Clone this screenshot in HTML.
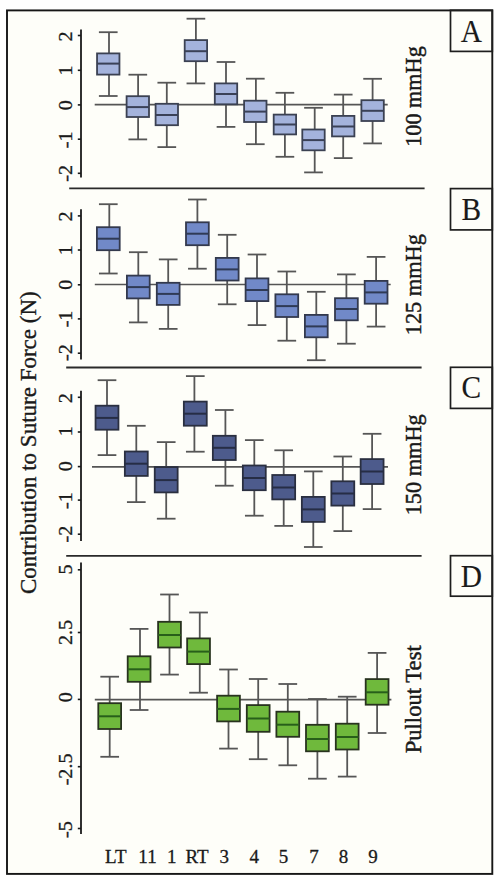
<!DOCTYPE html><html><head><meta charset="utf-8"><title>Contribution to Suture Force</title><style>
html,body{margin:0;padding:0;background:#fff;width:500px;height:883px;overflow:hidden}
svg{display:block}
text{font-family:"Liberation Serif",serif;fill:#1a1a1a}
</style></head><body>
<svg width="500" height="883" viewBox="0 0 500 883">
<rect x="7" y="10.4" width="485.3" height="863.5" fill="#fefef9" stroke="#161616" stroke-width="1.9"/>
<line x1="69.2" y1="188.3" x2="424.6" y2="188.3" stroke="#2a2a2a" stroke-width="1.8"/>
<line x1="66.2" y1="367.5" x2="421.6" y2="367.5" stroke="#2a2a2a" stroke-width="1.8"/>
<line x1="66.2" y1="555.9" x2="421.6" y2="555.9" stroke="#2a2a2a" stroke-width="1.8"/>
<rect x="450.5" y="10.3" width="41.8" height="41.1" fill="none" stroke="#1e1e1e" stroke-width="1.7"/>
<text transform="translate(471.4 42.05) scale(0.98 1.06)" font-size="30" text-anchor="middle" stroke="#1a1a1a" stroke-width="0.15">A</text>
<text transform="translate(421.3 96.5) rotate(-90) scale(0.925 1)" font-size="24" fill="#1a1a1a" stroke="#1a1a1a" stroke-width="0.45" text-anchor="middle">100 mmHg</text>
<line x1="81" y1="29.4" x2="81" y2="177.6" stroke="#1a1a1a" stroke-width="1.8"/>
<line x1="77.8" y1="35.5" x2="81" y2="35.5" stroke="#1a1a1a" stroke-width="1.6"/>
<text transform="translate(72.0 36.5) rotate(-90) scale(1.06 1)" font-size="19" text-anchor="middle" stroke="#1a1a1a" stroke-width="0.3">2</text>
<line x1="77.8" y1="70.3" x2="81" y2="70.3" stroke="#1a1a1a" stroke-width="1.6"/>
<text transform="translate(72.0 70.5) rotate(-90) scale(1.06 1)" font-size="19" text-anchor="middle" stroke="#1a1a1a" stroke-width="0.3">1</text>
<line x1="77.8" y1="104.9" x2="81" y2="104.9" stroke="#1a1a1a" stroke-width="1.6"/>
<text transform="translate(72.0 105.1) rotate(-90) scale(1.06 1)" font-size="19" text-anchor="middle" stroke="#1a1a1a" stroke-width="0.3">0</text>
<line x1="77.8" y1="139.2" x2="81" y2="139.2" stroke="#1a1a1a" stroke-width="1.6"/>
<text transform="translate(72.0 139.8) rotate(-90) scale(1.06 1)" font-size="19" text-anchor="middle" stroke="#1a1a1a" stroke-width="0.3">-1</text>
<line x1="77.8" y1="173.3" x2="81" y2="173.3" stroke="#1a1a1a" stroke-width="1.6"/>
<text transform="translate(72.0 173.3) rotate(-90) scale(1.06 1)" font-size="19" text-anchor="middle" stroke="#1a1a1a" stroke-width="0.3">-2</text>
<line x1="94.7" y1="104.6" x2="387.7" y2="104.6" stroke="#555" stroke-width="1.7"/>
<g stroke="#565656" stroke-width="1.8" fill="none"><line x1="109" y1="32.2" x2="109" y2="53.4"/><line x1="109" y1="74.6" x2="109" y2="96"/><line x1="98.9" y1="32.2" x2="117.6" y2="32.2"/><line x1="98.9" y1="96" x2="117.6" y2="96"/></g>
<rect x="97.05" y="53.4" width="22.4" height="21.2" fill="#a4b3dc" stroke="#3b4152" stroke-width="1.8"/>
<line x1="97.05" y1="63.6" x2="119.45" y2="63.6" stroke="#3a4157" stroke-width="2"/>
<g stroke="#565656" stroke-width="1.8" fill="none"><line x1="138.1" y1="74.7" x2="138.1" y2="96.2"/><line x1="138.1" y1="117" x2="138.1" y2="139.4"/><line x1="128.45" y1="74.7" x2="147.15" y2="74.7"/><line x1="128.45" y1="139.4" x2="147.15" y2="139.4"/></g>
<rect x="126.6" y="96.2" width="22.4" height="20.8" fill="#a4b3dc" stroke="#3b4152" stroke-width="1.8"/>
<line x1="126.6" y1="107.1" x2="149" y2="107.1" stroke="#3a4157" stroke-width="2"/>
<g stroke="#565656" stroke-width="1.8" fill="none"><line x1="166.8" y1="82.7" x2="166.8" y2="103.8"/><line x1="166.8" y1="125.2" x2="166.8" y2="147.1"/><line x1="157.45" y1="82.7" x2="176.15" y2="82.7"/><line x1="157.45" y1="147.1" x2="176.15" y2="147.1"/></g>
<rect x="155.6" y="103.8" width="22.4" height="21.4" fill="#a4b3dc" stroke="#3b4152" stroke-width="1.8"/>
<line x1="155.6" y1="115" x2="178" y2="115" stroke="#3a4157" stroke-width="2"/>
<g stroke="#565656" stroke-width="1.8" fill="none"><line x1="195.9" y1="18.7" x2="195.9" y2="40.1"/><line x1="195.9" y1="61.2" x2="195.9" y2="83.4"/><line x1="186.55" y1="18.7" x2="205.25" y2="18.7"/><line x1="186.55" y1="83.4" x2="205.25" y2="83.4"/></g>
<rect x="184.7" y="40.1" width="22.4" height="21.1" fill="#a4b3dc" stroke="#3b4152" stroke-width="1.8"/>
<line x1="184.7" y1="51.2" x2="207.1" y2="51.2" stroke="#3a4157" stroke-width="2"/>
<g stroke="#565656" stroke-width="1.8" fill="none"><line x1="226" y1="62" x2="226" y2="83.4"/><line x1="226" y1="104.3" x2="226" y2="126.9"/><line x1="216.65" y1="62" x2="235.35" y2="62"/><line x1="216.65" y1="126.9" x2="235.35" y2="126.9"/></g>
<rect x="214.8" y="83.4" width="22.4" height="20.9" fill="#a4b3dc" stroke="#3b4152" stroke-width="1.8"/>
<line x1="214.8" y1="94" x2="237.2" y2="94" stroke="#3a4157" stroke-width="2"/>
<g stroke="#565656" stroke-width="1.8" fill="none"><line x1="255.9" y1="78.7" x2="255.9" y2="100.7"/><line x1="255.9" y1="122" x2="255.9" y2="144.2"/><line x1="245.95" y1="78.7" x2="264.65" y2="78.7"/><line x1="245.95" y1="144.2" x2="264.65" y2="144.2"/></g>
<rect x="244.1" y="100.7" width="22.4" height="21.3" fill="#a4b3dc" stroke="#3b4152" stroke-width="1.8"/>
<line x1="244.1" y1="111.6" x2="266.5" y2="111.6" stroke="#3a4157" stroke-width="2"/>
<g stroke="#565656" stroke-width="1.8" fill="none"><line x1="284.9" y1="92.8" x2="284.9" y2="114.6"/><line x1="284.9" y1="134.4" x2="284.9" y2="156.8"/><line x1="275.55" y1="92.8" x2="294.25" y2="92.8"/><line x1="275.55" y1="156.8" x2="294.25" y2="156.8"/></g>
<rect x="273.7" y="114.6" width="22.4" height="19.8" fill="#a4b3dc" stroke="#3b4152" stroke-width="1.8"/>
<line x1="273.7" y1="124.5" x2="296.1" y2="124.5" stroke="#3a4157" stroke-width="2"/>
<g stroke="#565656" stroke-width="1.8" fill="none"><line x1="314.7" y1="107.8" x2="314.7" y2="129.5"/><line x1="314.7" y1="150.3" x2="314.7" y2="172.4"/><line x1="304.15" y1="107.8" x2="322.85" y2="107.8"/><line x1="304.15" y1="172.4" x2="322.85" y2="172.4"/></g>
<rect x="302.3" y="129.5" width="22.4" height="20.8" fill="#a4b3dc" stroke="#3b4152" stroke-width="1.8"/>
<line x1="302.3" y1="140.1" x2="324.7" y2="140.1" stroke="#3a4157" stroke-width="2"/>
<g stroke="#565656" stroke-width="1.8" fill="none"><line x1="343.2" y1="94.6" x2="343.2" y2="115.9"/><line x1="343.2" y1="136.4" x2="343.2" y2="158.1"/><line x1="333.85" y1="94.6" x2="352.55" y2="94.6"/><line x1="333.85" y1="158.1" x2="352.55" y2="158.1"/></g>
<rect x="332" y="115.9" width="22.4" height="20.5" fill="#a4b3dc" stroke="#3b4152" stroke-width="1.8"/>
<line x1="332" y1="126.5" x2="354.4" y2="126.5" stroke="#3a4157" stroke-width="2"/>
<g stroke="#565656" stroke-width="1.8" fill="none"><line x1="372.6" y1="78.8" x2="372.6" y2="100.2"/><line x1="372.6" y1="121" x2="372.6" y2="143.4"/><line x1="363.25" y1="78.8" x2="381.95" y2="78.8"/><line x1="363.25" y1="143.4" x2="381.95" y2="143.4"/></g>
<rect x="361.4" y="100.2" width="22.4" height="20.8" fill="#a4b3dc" stroke="#3b4152" stroke-width="1.8"/>
<line x1="361.4" y1="110.8" x2="383.8" y2="110.8" stroke="#3a4157" stroke-width="2"/>
<rect x="450.5" y="188.6" width="41.8" height="41.3" fill="none" stroke="#1e1e1e" stroke-width="1.7"/>
<text transform="translate(471.4 220.35) scale(0.98 1.06)" font-size="30" text-anchor="middle" stroke="#1a1a1a" stroke-width="0.15">B</text>
<text transform="translate(421.3 284.7) rotate(-90) scale(0.93 1)" font-size="24" fill="#1a1a1a" stroke="#1a1a1a" stroke-width="0.45" text-anchor="middle">125 mmHg</text>
<line x1="81" y1="209.3" x2="81" y2="359.4" stroke="#1a1a1a" stroke-width="1.8"/>
<line x1="77.8" y1="215.9" x2="81" y2="215.9" stroke="#1a1a1a" stroke-width="1.6"/>
<text transform="translate(72.0 216.4) rotate(-90) scale(1.06 1)" font-size="19" text-anchor="middle" stroke="#1a1a1a" stroke-width="0.3">2</text>
<line x1="77.8" y1="250" x2="81" y2="250" stroke="#1a1a1a" stroke-width="1.6"/>
<text transform="translate(72.0 250.2) rotate(-90) scale(1.06 1)" font-size="19" text-anchor="middle" stroke="#1a1a1a" stroke-width="0.3">1</text>
<line x1="77.8" y1="284.8" x2="81" y2="284.8" stroke="#1a1a1a" stroke-width="1.6"/>
<text transform="translate(72.0 284.8) rotate(-90) scale(1.06 1)" font-size="19" text-anchor="middle" stroke="#1a1a1a" stroke-width="0.3">0</text>
<line x1="77.8" y1="318.9" x2="81" y2="318.9" stroke="#1a1a1a" stroke-width="1.6"/>
<text transform="translate(72.0 319) rotate(-90) scale(1.06 1)" font-size="19" text-anchor="middle" stroke="#1a1a1a" stroke-width="0.3">-1</text>
<line x1="77.8" y1="353.2" x2="81" y2="353.2" stroke="#1a1a1a" stroke-width="1.6"/>
<text transform="translate(72.0 352.6) rotate(-90) scale(1.06 1)" font-size="19" text-anchor="middle" stroke="#1a1a1a" stroke-width="0.3">-2</text>
<line x1="94.8" y1="284.5" x2="390.7" y2="284.5" stroke="#555" stroke-width="1.7"/>
<g stroke="#565656" stroke-width="1.8" fill="none"><line x1="109.3" y1="204.2" x2="109.3" y2="227.2"/><line x1="109.3" y1="250.2" x2="109.3" y2="273.5"/><line x1="98.95" y1="204.2" x2="117.65" y2="204.2"/><line x1="98.95" y1="273.5" x2="117.65" y2="273.5"/></g>
<rect x="96.9" y="227.2" width="22.8" height="23" fill="#7189c8" stroke="#33394d" stroke-width="1.8"/>
<line x1="96.9" y1="238.7" x2="119.7" y2="238.7" stroke="#2f3a55" stroke-width="2"/>
<g stroke="#565656" stroke-width="1.8" fill="none"><line x1="138.3" y1="252.2" x2="138.3" y2="275.6"/><line x1="138.3" y1="298.4" x2="138.3" y2="322.4"/><line x1="128.95" y1="252.2" x2="147.65" y2="252.2"/><line x1="128.95" y1="322.4" x2="147.65" y2="322.4"/></g>
<rect x="126.9" y="275.6" width="22.8" height="22.8" fill="#7189c8" stroke="#33394d" stroke-width="1.8"/>
<line x1="126.9" y1="287.1" x2="149.7" y2="287.1" stroke="#2f3a55" stroke-width="2"/>
<g stroke="#565656" stroke-width="1.8" fill="none"><line x1="168.2" y1="259.4" x2="168.2" y2="282.8"/><line x1="168.2" y1="304.9" x2="168.2" y2="328.9"/><line x1="158.85" y1="259.4" x2="177.55" y2="259.4"/><line x1="158.85" y1="328.9" x2="177.55" y2="328.9"/></g>
<rect x="156.8" y="282.8" width="22.8" height="22.1" fill="#7189c8" stroke="#33394d" stroke-width="1.8"/>
<line x1="156.8" y1="293.9" x2="179.6" y2="293.9" stroke="#2f3a55" stroke-width="2"/>
<g stroke="#565656" stroke-width="1.8" fill="none"><line x1="197.4" y1="199.5" x2="197.4" y2="222.3"/><line x1="197.4" y1="245.2" x2="197.4" y2="268.7"/><line x1="188.05" y1="199.5" x2="206.75" y2="199.5"/><line x1="188.05" y1="268.7" x2="206.75" y2="268.7"/></g>
<rect x="186" y="222.3" width="22.8" height="22.9" fill="#7189c8" stroke="#33394d" stroke-width="1.8"/>
<line x1="186" y1="233.7" x2="208.8" y2="233.7" stroke="#2f3a55" stroke-width="2"/>
<g stroke="#565656" stroke-width="1.8" fill="none"><line x1="227.2" y1="234.8" x2="227.2" y2="257.9"/><line x1="227.2" y1="280.5" x2="227.2" y2="304.3"/><line x1="217.85" y1="234.8" x2="236.55" y2="234.8"/><line x1="217.85" y1="304.3" x2="236.55" y2="304.3"/></g>
<rect x="215.8" y="257.9" width="22.8" height="22.6" fill="#7189c8" stroke="#33394d" stroke-width="1.8"/>
<line x1="215.8" y1="269.4" x2="238.6" y2="269.4" stroke="#2f3a55" stroke-width="2"/>
<g stroke="#565656" stroke-width="1.8" fill="none"><line x1="257" y1="254.5" x2="257" y2="278.4"/><line x1="257" y1="301.1" x2="257" y2="325.1"/><line x1="247.65" y1="254.5" x2="266.35" y2="254.5"/><line x1="247.65" y1="325.1" x2="266.35" y2="325.1"/></g>
<rect x="245.6" y="278.4" width="22.8" height="22.7" fill="#7189c8" stroke="#33394d" stroke-width="1.8"/>
<line x1="245.6" y1="290" x2="268.4" y2="290" stroke="#2f3a55" stroke-width="2"/>
<g stroke="#565656" stroke-width="1.8" fill="none"><line x1="286.8" y1="271.5" x2="286.8" y2="294.3"/><line x1="286.8" y1="317" x2="286.8" y2="340.7"/><line x1="277.45" y1="271.5" x2="296.15" y2="271.5"/><line x1="277.45" y1="340.7" x2="296.15" y2="340.7"/></g>
<rect x="275.4" y="294.3" width="22.8" height="22.7" fill="#7189c8" stroke="#33394d" stroke-width="1.8"/>
<line x1="275.4" y1="306.1" x2="298.2" y2="306.1" stroke="#2f3a55" stroke-width="2"/>
<g stroke="#565656" stroke-width="1.8" fill="none"><line x1="316.3" y1="291.8" x2="316.3" y2="314.9"/><line x1="316.3" y1="337.3" x2="316.3" y2="360.2"/><line x1="306.95" y1="291.8" x2="325.65" y2="291.8"/><line x1="306.95" y1="360.2" x2="325.65" y2="360.2"/></g>
<rect x="304.9" y="314.9" width="22.8" height="22.4" fill="#7189c8" stroke="#33394d" stroke-width="1.8"/>
<line x1="304.9" y1="326.4" x2="327.7" y2="326.4" stroke="#2f3a55" stroke-width="2"/>
<g stroke="#565656" stroke-width="1.8" fill="none"><line x1="346.4" y1="274.4" x2="346.4" y2="298.2"/><line x1="346.4" y1="320.3" x2="346.4" y2="343.7"/><line x1="337.05" y1="274.4" x2="355.75" y2="274.4"/><line x1="337.05" y1="343.7" x2="355.75" y2="343.7"/></g>
<rect x="335" y="298.2" width="22.8" height="22.1" fill="#7189c8" stroke="#33394d" stroke-width="1.8"/>
<line x1="335" y1="309" x2="357.8" y2="309" stroke="#2f3a55" stroke-width="2"/>
<g stroke="#565656" stroke-width="1.8" fill="none"><line x1="376.1" y1="256.9" x2="376.1" y2="280.9"/><line x1="376.1" y1="303.7" x2="376.1" y2="326.6"/><line x1="366.75" y1="256.9" x2="385.45" y2="256.9"/><line x1="366.75" y1="326.6" x2="385.45" y2="326.6"/></g>
<rect x="364.7" y="280.9" width="22.8" height="22.8" fill="#7189c8" stroke="#33394d" stroke-width="1.8"/>
<line x1="364.7" y1="292.4" x2="387.5" y2="292.4" stroke="#2f3a55" stroke-width="2"/>
<rect x="450.5" y="367.3" width="41.8" height="41.1" fill="none" stroke="#1e1e1e" stroke-width="1.7"/>
<text transform="translate(471.4 398.35) scale(0.98 1.06)" font-size="30" text-anchor="middle" stroke="#1a1a1a" stroke-width="0.15">C</text>
<text transform="translate(421.3 464.8) rotate(-90) scale(0.93 1)" font-size="24" fill="#1a1a1a" stroke="#1a1a1a" stroke-width="0.45" text-anchor="middle">150 mmHg</text>
<line x1="81" y1="390.7" x2="81" y2="540.9" stroke="#1a1a1a" stroke-width="1.8"/>
<line x1="77.8" y1="397.3" x2="81" y2="397.3" stroke="#1a1a1a" stroke-width="1.6"/>
<text transform="translate(72.0 398.3) rotate(-90) scale(1.06 1)" font-size="19" text-anchor="middle" stroke="#1a1a1a" stroke-width="0.3">2</text>
<line x1="77.8" y1="432" x2="81" y2="432" stroke="#1a1a1a" stroke-width="1.6"/>
<text transform="translate(72.0 431.2) rotate(-90) scale(1.06 1)" font-size="19" text-anchor="middle" stroke="#1a1a1a" stroke-width="0.3">1</text>
<line x1="77.8" y1="466.6" x2="81" y2="466.6" stroke="#1a1a1a" stroke-width="1.6"/>
<text transform="translate(72.0 466.2) rotate(-90) scale(1.06 1)" font-size="19" text-anchor="middle" stroke="#1a1a1a" stroke-width="0.3">0</text>
<line x1="77.8" y1="500.1" x2="81" y2="500.1" stroke="#1a1a1a" stroke-width="1.6"/>
<text transform="translate(72.0 500.7) rotate(-90) scale(1.06 1)" font-size="19" text-anchor="middle" stroke="#1a1a1a" stroke-width="0.3">-1</text>
<line x1="77.8" y1="534.2" x2="81" y2="534.2" stroke="#1a1a1a" stroke-width="1.6"/>
<text transform="translate(72.0 534.2) rotate(-90) scale(1.06 1)" font-size="19" text-anchor="middle" stroke="#1a1a1a" stroke-width="0.3">-2</text>
<line x1="92" y1="466.85" x2="388" y2="466.85" stroke="#555" stroke-width="1.7"/>
<g stroke="#565656" stroke-width="1.8" fill="none"><line x1="107" y1="380.2" x2="107" y2="405.7"/><line x1="107" y1="429.7" x2="107" y2="455.1"/><line x1="97.65" y1="380.2" x2="116.35" y2="380.2"/><line x1="97.65" y1="455.1" x2="116.35" y2="455.1"/></g>
<rect x="95.55" y="405.7" width="22.9" height="24" fill="#4d5b8c" stroke="#2a2f40" stroke-width="1.8"/>
<line x1="95.55" y1="417.9" x2="118.45" y2="417.9" stroke="#262d45" stroke-width="2"/>
<g stroke="#565656" stroke-width="1.8" fill="none"><line x1="136.3" y1="425.8" x2="136.3" y2="451.5"/><line x1="136.3" y1="475.9" x2="136.3" y2="502.1"/><line x1="126.95" y1="425.8" x2="145.65" y2="425.8"/><line x1="126.95" y1="502.1" x2="145.65" y2="502.1"/></g>
<rect x="124.85" y="451.5" width="22.9" height="24.4" fill="#4d5b8c" stroke="#2a2f40" stroke-width="1.8"/>
<line x1="124.85" y1="463.7" x2="147.75" y2="463.7" stroke="#262d45" stroke-width="2"/>
<g stroke="#565656" stroke-width="1.8" fill="none"><line x1="166.2" y1="442.1" x2="166.2" y2="467.1"/><line x1="166.2" y1="492.4" x2="166.2" y2="518.7"/><line x1="156.85" y1="442.1" x2="175.55" y2="442.1"/><line x1="156.85" y1="518.7" x2="175.55" y2="518.7"/></g>
<rect x="154.75" y="467.1" width="22.9" height="25.3" fill="#4d5b8c" stroke="#2a2f40" stroke-width="1.8"/>
<line x1="154.75" y1="480.1" x2="177.65" y2="480.1" stroke="#262d45" stroke-width="2"/>
<g stroke="#565656" stroke-width="1.8" fill="none"><line x1="194.4" y1="376.1" x2="194.4" y2="401.6"/><line x1="194.4" y1="425.7" x2="194.4" y2="451.7"/><line x1="185.95" y1="376.1" x2="204.65" y2="376.1"/><line x1="185.95" y1="451.7" x2="204.65" y2="451.7"/></g>
<rect x="183.85" y="401.6" width="22.9" height="24.1" fill="#4d5b8c" stroke="#2a2f40" stroke-width="1.8"/>
<line x1="183.85" y1="413.7" x2="206.75" y2="413.7" stroke="#262d45" stroke-width="2"/>
<g stroke="#565656" stroke-width="1.8" fill="none"><line x1="225.4" y1="410" x2="225.4" y2="435.8"/><line x1="225.4" y1="460" x2="225.4" y2="485.7"/><line x1="214.95" y1="410" x2="233.65" y2="410"/><line x1="214.95" y1="485.7" x2="233.65" y2="485.7"/></g>
<rect x="212.85" y="435.8" width="22.9" height="24.2" fill="#4d5b8c" stroke="#2a2f40" stroke-width="1.8"/>
<line x1="212.85" y1="447.8" x2="235.75" y2="447.8" stroke="#262d45" stroke-width="2"/>
<g stroke="#565656" stroke-width="1.8" fill="none"><line x1="254.3" y1="440.1" x2="254.3" y2="465.5"/><line x1="254.3" y1="490.2" x2="254.3" y2="515.7"/><line x1="244.95" y1="440.1" x2="263.65" y2="440.1"/><line x1="244.95" y1="515.7" x2="263.65" y2="515.7"/></g>
<rect x="242.85" y="465.5" width="22.9" height="24.7" fill="#4d5b8c" stroke="#2a2f40" stroke-width="1.8"/>
<line x1="242.85" y1="478" x2="265.75" y2="478" stroke="#262d45" stroke-width="2"/>
<g stroke="#565656" stroke-width="1.8" fill="none"><line x1="283.7" y1="450.3" x2="283.7" y2="475"/><line x1="283.7" y1="499.4" x2="283.7" y2="525.9"/><line x1="274.35" y1="450.3" x2="293.05" y2="450.3"/><line x1="274.35" y1="525.9" x2="293.05" y2="525.9"/></g>
<rect x="272.25" y="475" width="22.9" height="24.4" fill="#4d5b8c" stroke="#2a2f40" stroke-width="1.8"/>
<line x1="272.25" y1="487.5" x2="295.15" y2="487.5" stroke="#262d45" stroke-width="2"/>
<g stroke="#565656" stroke-width="1.8" fill="none"><line x1="313.3" y1="471.4" x2="313.3" y2="496.9"/><line x1="313.3" y1="521.9" x2="313.3" y2="547"/><line x1="303.95" y1="471.4" x2="322.65" y2="471.4"/><line x1="303.95" y1="547" x2="322.65" y2="547"/></g>
<rect x="301.85" y="496.9" width="22.9" height="25" fill="#4d5b8c" stroke="#2a2f40" stroke-width="1.8"/>
<line x1="301.85" y1="509.4" x2="324.75" y2="509.4" stroke="#262d45" stroke-width="2"/>
<g stroke="#565656" stroke-width="1.8" fill="none"><line x1="342.8" y1="456.5" x2="342.8" y2="481.3"/><line x1="342.8" y1="505.6" x2="342.8" y2="531.1"/><line x1="333.45" y1="456.5" x2="352.15" y2="456.5"/><line x1="333.45" y1="531.1" x2="352.15" y2="531.1"/></g>
<rect x="331.35" y="481.3" width="22.9" height="24.3" fill="#4d5b8c" stroke="#2a2f40" stroke-width="1.8"/>
<line x1="331.35" y1="493.5" x2="354.25" y2="493.5" stroke="#262d45" stroke-width="2"/>
<g stroke="#565656" stroke-width="1.8" fill="none"><line x1="372.1" y1="433.8" x2="372.1" y2="459.1"/><line x1="372.1" y1="484" x2="372.1" y2="509.1"/><line x1="362.75" y1="433.8" x2="381.45" y2="433.8"/><line x1="362.75" y1="509.1" x2="381.45" y2="509.1"/></g>
<rect x="360.65" y="459.1" width="22.9" height="24.9" fill="#4d5b8c" stroke="#2a2f40" stroke-width="1.8"/>
<line x1="360.65" y1="471.5" x2="383.55" y2="471.5" stroke="#262d45" stroke-width="2"/>
<rect x="450.5" y="555.7" width="41.8" height="40.5" fill="none" stroke="#1e1e1e" stroke-width="1.7"/>
<text transform="translate(471.4 587.45) scale(0.98 1.06)" font-size="30" text-anchor="middle" stroke="#1a1a1a" stroke-width="0.15">D</text>
<text transform="translate(421.1 699.3) rotate(-90) scale(0.944 1)" font-size="24" fill="#1a1a1a" stroke="#1a1a1a" stroke-width="0.45" text-anchor="middle">Pullout Test</text>
<line x1="81" y1="562.6" x2="81" y2="834" stroke="#1a1a1a" stroke-width="1.8"/>
<line x1="77.8" y1="569.8" x2="81" y2="569.8" stroke="#1a1a1a" stroke-width="1.6"/>
<text transform="translate(72.0 569.4) rotate(-90) scale(1.06 1)" font-size="19" text-anchor="middle" stroke="#1a1a1a" stroke-width="0.3">5</text>
<line x1="77.8" y1="632.5" x2="81" y2="632.5" stroke="#1a1a1a" stroke-width="1.6"/>
<text transform="translate(72.0 632.5) rotate(-90) scale(1.06 1)" font-size="19" text-anchor="middle" stroke="#1a1a1a" stroke-width="0.3">2.5</text>
<line x1="77.8" y1="699.4" x2="81" y2="699.4" stroke="#1a1a1a" stroke-width="1.6"/>
<text transform="translate(72.0 697.2) rotate(-90) scale(1.06 1)" font-size="19" text-anchor="middle" stroke="#1a1a1a" stroke-width="0.3">0</text>
<line x1="77.8" y1="766.7" x2="81" y2="766.7" stroke="#1a1a1a" stroke-width="1.6"/>
<text transform="translate(72.0 769.4) rotate(-90) scale(1.06 1)" font-size="19" text-anchor="middle" stroke="#1a1a1a" stroke-width="0.3">-2.5</text>
<line x1="77.8" y1="828.5" x2="81" y2="828.5" stroke="#1a1a1a" stroke-width="1.6"/>
<text transform="translate(72.0 829.6) rotate(-90) scale(1.06 1)" font-size="19" text-anchor="middle" stroke="#1a1a1a" stroke-width="0.3">-5</text>
<line x1="94.8" y1="699.7" x2="391.4" y2="699.7" stroke="#555" stroke-width="1.7"/>
<g stroke="#565656" stroke-width="1.8" fill="none"><line x1="109.7" y1="676.7" x2="109.7" y2="703.2"/><line x1="109.7" y1="729" x2="109.7" y2="756.8"/><line x1="100.35" y1="676.7" x2="119.05" y2="676.7"/><line x1="100.35" y1="756.8" x2="119.05" y2="756.8"/></g>
<rect x="98.3" y="703.2" width="22.8" height="25.8" fill="#6fb93c" stroke="#28331f" stroke-width="1.8"/>
<line x1="98.3" y1="716.3" x2="121.1" y2="716.3" stroke="#285f1a" stroke-width="2"/>
<g stroke="#565656" stroke-width="1.8" fill="none"><line x1="140" y1="628.9" x2="140" y2="656.3"/><line x1="140" y1="681.8" x2="140" y2="710"/><line x1="129.75" y1="628.9" x2="148.45" y2="628.9"/><line x1="129.75" y1="710" x2="148.45" y2="710"/></g>
<rect x="127.7" y="656.3" width="22.8" height="25.5" fill="#6fb93c" stroke="#28331f" stroke-width="1.8"/>
<line x1="127.7" y1="669.3" x2="150.5" y2="669.3" stroke="#285f1a" stroke-width="2"/>
<g stroke="#565656" stroke-width="1.8" fill="none"><line x1="169.5" y1="594.5" x2="169.5" y2="621.8"/><line x1="169.5" y1="647.5" x2="169.5" y2="674.6"/><line x1="160.15" y1="594.5" x2="178.85" y2="594.5"/><line x1="160.15" y1="674.6" x2="178.85" y2="674.6"/></g>
<rect x="158.1" y="621.8" width="22.8" height="25.7" fill="#6fb93c" stroke="#28331f" stroke-width="1.8"/>
<line x1="158.1" y1="635" x2="180.9" y2="635" stroke="#285f1a" stroke-width="2"/>
<g stroke="#565656" stroke-width="1.8" fill="none"><line x1="199.75" y1="612.5" x2="199.75" y2="638.4"/><line x1="199.75" y1="664.1" x2="199.75" y2="692.7"/><line x1="189.2" y1="612.5" x2="207.9" y2="612.5"/><line x1="189.2" y1="692.7" x2="207.9" y2="692.7"/></g>
<rect x="187.15" y="638.4" width="22.8" height="25.7" fill="#6fb93c" stroke="#28331f" stroke-width="1.8"/>
<line x1="187.15" y1="651.6" x2="209.95" y2="651.6" stroke="#285f1a" stroke-width="2"/>
<g stroke="#565656" stroke-width="1.8" fill="none"><line x1="228.5" y1="669.5" x2="228.5" y2="695.7"/><line x1="228.5" y1="721.4" x2="228.5" y2="748.6"/><line x1="219.15" y1="669.5" x2="237.85" y2="669.5"/><line x1="219.15" y1="748.6" x2="237.85" y2="748.6"/></g>
<rect x="217.1" y="695.7" width="22.8" height="25.7" fill="#6fb93c" stroke="#28331f" stroke-width="1.8"/>
<line x1="217.1" y1="708.9" x2="239.9" y2="708.9" stroke="#285f1a" stroke-width="2"/>
<g stroke="#565656" stroke-width="1.8" fill="none"><line x1="258.2" y1="679" x2="258.2" y2="705.1"/><line x1="258.2" y1="731.8" x2="258.2" y2="759.2"/><line x1="248.85" y1="679" x2="267.55" y2="679"/><line x1="248.85" y1="759.2" x2="267.55" y2="759.2"/></g>
<rect x="246.8" y="705.1" width="22.8" height="26.7" fill="#6fb93c" stroke="#28331f" stroke-width="1.8"/>
<line x1="246.8" y1="718.5" x2="269.6" y2="718.5" stroke="#285f1a" stroke-width="2"/>
<g stroke="#565656" stroke-width="1.8" fill="none"><line x1="287.8" y1="684" x2="287.8" y2="711.7"/><line x1="287.8" y1="736.8" x2="287.8" y2="765.3"/><line x1="278.45" y1="684" x2="297.15" y2="684"/><line x1="278.45" y1="765.3" x2="297.15" y2="765.3"/></g>
<rect x="276.4" y="711.7" width="22.8" height="25.1" fill="#6fb93c" stroke="#28331f" stroke-width="1.8"/>
<line x1="276.4" y1="724.7" x2="299.2" y2="724.7" stroke="#285f1a" stroke-width="2"/>
<g stroke="#565656" stroke-width="1.8" fill="none"><line x1="317.4" y1="699" x2="317.4" y2="724.8"/><line x1="317.4" y1="751.3" x2="317.4" y2="778.7"/><line x1="308.05" y1="699" x2="326.75" y2="699"/><line x1="308.05" y1="778.7" x2="326.75" y2="778.7"/></g>
<rect x="306" y="724.8" width="22.8" height="26.5" fill="#6fb93c" stroke="#28331f" stroke-width="1.8"/>
<line x1="306" y1="739" x2="328.8" y2="739" stroke="#285f1a" stroke-width="2"/>
<g stroke="#565656" stroke-width="1.8" fill="none"><line x1="347.2" y1="696.7" x2="347.2" y2="723.7"/><line x1="347.2" y1="749.5" x2="347.2" y2="776.6"/><line x1="337.85" y1="696.7" x2="356.55" y2="696.7"/><line x1="337.85" y1="776.6" x2="356.55" y2="776.6"/></g>
<rect x="335.8" y="723.7" width="22.8" height="25.8" fill="#6fb93c" stroke="#28331f" stroke-width="1.8"/>
<line x1="335.8" y1="737" x2="358.6" y2="737" stroke="#285f1a" stroke-width="2"/>
<g stroke="#565656" stroke-width="1.8" fill="none"><line x1="377.1" y1="652.9" x2="377.1" y2="679.1"/><line x1="377.1" y1="704.7" x2="377.1" y2="733"/><line x1="367.75" y1="652.9" x2="386.45" y2="652.9"/><line x1="367.75" y1="733" x2="386.45" y2="733"/></g>
<rect x="365.7" y="679.1" width="22.8" height="25.6" fill="#6fb93c" stroke="#28331f" stroke-width="1.8"/>
<line x1="365.7" y1="692.3" x2="388.5" y2="692.3" stroke="#285f1a" stroke-width="2"/>
<text transform="translate(36.1 442.7) rotate(-90)" font-size="23" text-anchor="middle" stroke="#1a1a1a" stroke-width="0.35">Contribution to Suture Force (N)</text>
<text x="115.8" y="862.5" font-size="19" text-anchor="middle" stroke="#1a1a1a" stroke-width="0.3">LT</text>
<text x="147.5" y="862.5" font-size="19" text-anchor="middle" stroke="#1a1a1a" stroke-width="0.3">11</text>
<text x="171.8" y="862.5" font-size="19" text-anchor="middle" stroke="#1a1a1a" stroke-width="0.3">1</text>
<text x="197" y="862.5" font-size="19" text-anchor="middle" stroke="#1a1a1a" stroke-width="0.3">RT</text>
<text x="224.3" y="862.5" font-size="19" text-anchor="middle" stroke="#1a1a1a" stroke-width="0.3">3</text>
<text x="254.2" y="862.5" font-size="19" text-anchor="middle" stroke="#1a1a1a" stroke-width="0.3">4</text>
<text x="283.6" y="862.5" font-size="19" text-anchor="middle" stroke="#1a1a1a" stroke-width="0.3">5</text>
<text x="314" y="862.5" font-size="19" text-anchor="middle" stroke="#1a1a1a" stroke-width="0.3">7</text>
<text x="343.4" y="862.5" font-size="19" text-anchor="middle" stroke="#1a1a1a" stroke-width="0.3">8</text>
<text x="372.9" y="862.5" font-size="19" text-anchor="middle" stroke="#1a1a1a" stroke-width="0.3">9</text>
</svg></body></html>
